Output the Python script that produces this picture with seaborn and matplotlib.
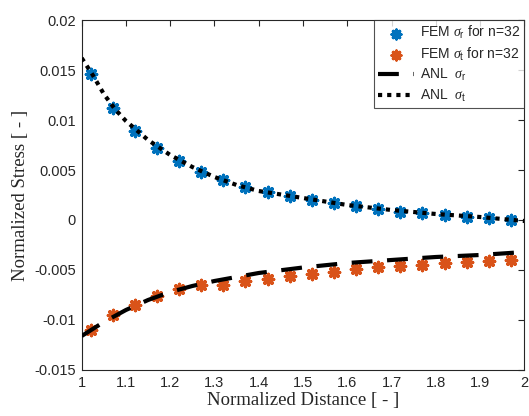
import numpy as np
import pandas as pd
import matplotlib
matplotlib.use("Agg")
import matplotlib.pyplot as plt
import seaborn as sns

# FEM results (n=32)
fem_x = [1.02, 1.07, 1.12, 1.17, 1.22, 1.27, 1.32, 1.37, 1.42, 1.47,
         1.52, 1.57, 1.62, 1.67, 1.72, 1.77, 1.82, 1.87, 1.92, 1.97]
fem_sr = [0.0146, 0.0112, 0.0089, 0.0072, 0.0059, 0.0048, 0.0040, 0.0033, 0.0028, 0.0024,
          0.0020, 0.0017, 0.0014, 0.0011, 0.0008, 0.0007, 0.0005, 0.0003, 0.0002, 0.0000]
fem_st = [-0.0110, -0.0095, -0.0085, -0.0076, -0.0069, -0.0065, -0.0065, -0.0061, -0.0059, -0.0056,
          -0.0054, -0.0052, -0.0049, -0.0047, -0.0046, -0.0045, -0.0043, -0.0042, -0.0041, -0.0040]

# Analytical curves
anl_x = [1.0, 1.025, 1.05, 1.075, 1.1, 1.15, 1.2, 1.25, 1.3, 1.35, 1.4, 1.5, 1.6, 1.7, 1.8, 1.9, 2.0]
anl_sr = [-0.0116, -0.0109, -0.0102, -0.0096, -0.0090, -0.0080, -0.0072, -0.0066, -0.0061,
          -0.0057, -0.0053, -0.00475, -0.0043, -0.0040, -0.0037, -0.0035, -0.0032]
anl_st = [0.0162, 0.0145, 0.0126, 0.0111, 0.0099, 0.0080, 0.0065, 0.0053, 0.0043,
          0.0035, 0.0029, 0.0022, 0.0015, 0.0010, 0.0006, 0.0003, -0.0001]

xticks = [1, 1.1, 1.2, 1.3, 1.4, 1.5, 1.6, 1.7, 1.8, 1.9, 2]
yticks = [-0.015, -0.01, -0.005, 0, 0.005, 0.01, 0.015, 0.02]
ytick_labels = ["-0.015", "-0.01", "-0.005", "0", "0.005", "0.01", "0.015", "0.02"]
xtick_labels = ["1", "1.1", "1.2", "1.3", "1.4", "1.5", "1.6", "1.7", "1.8", "1.9", "2"]

sns.set_style("white")
plt.rcParams['font.family'] = ['Liberation Sans', 'DejaVu Sans']
plt.rcParams['mathtext.fontset'] = 'custom'
plt.rcParams['mathtext.it'] = 'Liberation Serif:italic'
plt.rcParams['mathtext.rm'] = 'Liberation Sans'
plt.rcParams['mathtext.sf'] = 'Liberation Sans'

fig = plt.figure(figsize=(5.29, 4.16), dpi=100)
ax = fig.add_axes([0.1544, 0.1106, 0.8367, 0.8413])

blue = '#0072BD'
orange = '#D95319'
df_fem = pd.DataFrame({'x': fem_x, 'sr': fem_sr, 'st': fem_st})
df_anl = pd.DataFrame({'x': anl_x, 'sr': anl_sr, 'st': anl_st})

sns.scatterplot(data=df_fem, x='x', y='sr', ax=ax, marker=(8, 2, 0), s=55,
                color=blue, edgecolor=blue, linewidth=2.4,
                label=r'FEM $\sigma_{\mathrm{r}}$ for n=32', zorder=2)
sns.scatterplot(data=df_fem, x='x', y='st', ax=ax, marker=(8, 2, 0), s=55,
                color=orange, edgecolor=orange, linewidth=2.4,
                label=r'FEM $\sigma_{\mathrm{t}}$ for n=32', zorder=2)
sns.lineplot(data=df_anl, x='x', y='sr', ax=ax, color='black', lw=3,
             label=r'ANL  $\sigma_{\mathrm{r}}$', zorder=3)
sns.lineplot(data=df_anl, x='x', y='st', ax=ax, color='black', lw=3,
             label=r'ANL  $\sigma_{\mathrm{t}}$', zorder=3)
ax.lines[0].set_dashes([5, 3.5])
ax.lines[1].set_linestyle((0, (1, 1.2)))

ax.set_xlim(1, 2)
ax.set_ylim(-0.015, 0.02)
ax.set_xticks(xticks)
ax.set_xticklabels(xtick_labels)
ax.set_yticks(yticks)
ax.set_yticklabels(ytick_labels)
ax.tick_params(direction='in', length=4, width=0.8, top=True, right=True,
               labelsize=10.5, colors='#262626', pad=4)
for sp in ax.spines.values():
    sp.set_color('#262626')
    sp.set_linewidth(0.8)

ax.set_xlabel('Normalized Distance [ - ]', family=['Liberation Serif'], fontsize=13.5, labelpad=2)
ax.set_ylabel('Normalized Stress [ - ]', family=['Liberation Serif'], fontsize=13.5, labelpad=4)

leg = ax.legend(loc='upper right', fontsize=10, frameon=True, fancybox=False,
                borderaxespad=0, handlelength=2.6, handletextpad=0.4,
                borderpad=0.3, labelspacing=0.32, markerscale=0.85)
leg.get_frame().set_edgecolor('#262626')
leg.get_frame().set_linewidth(0.8)

fig.savefig('out.png', dpi=100)
